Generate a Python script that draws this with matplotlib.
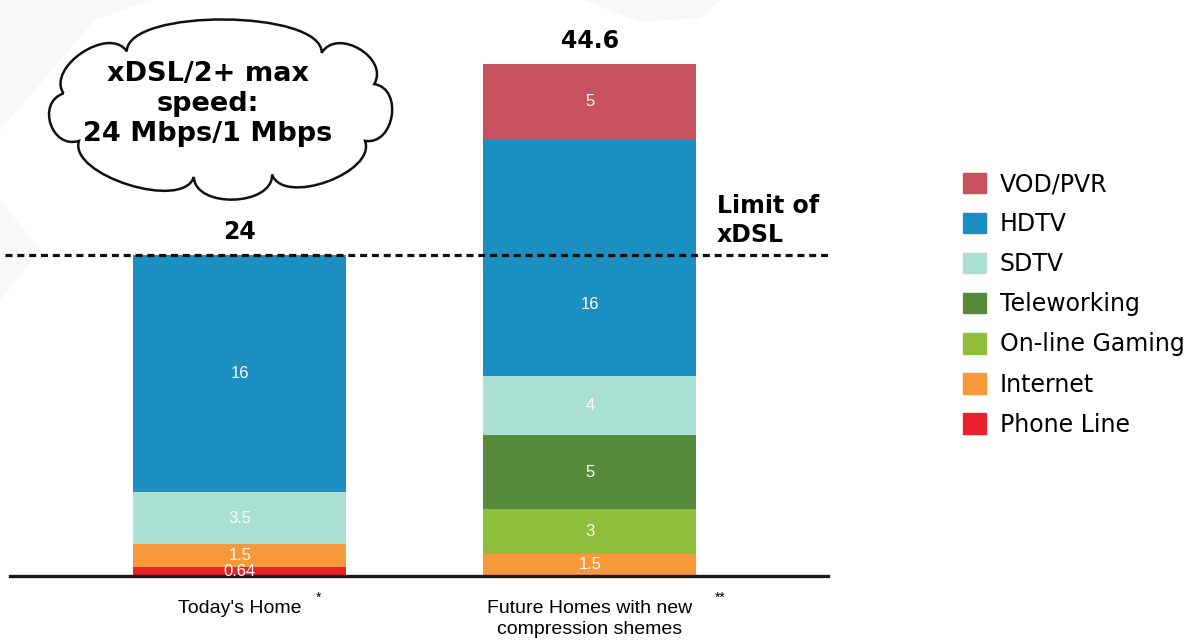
import numpy as np
import matplotlib
matplotlib.use("Agg")
import matplotlib.pyplot as plt
from matplotlib.patches import Patch, PathPatch, Polygon
from matplotlib.path import Path

# ---- data (Mbps per service) ------------------------------------------------
homes = ["Today's Home", "Future Homes with new\ncompression shemes"]
home_marks = ["*", "**"]
services = ["Phone Line", "Internet", "On-line Gaming", "Teleworking",
            "SDTV", "HDTV", "VOD/PVR"]
today = [0.64, 1.5, 0, 0, 3.5, 16, 0]
future = [0, 1.5, 3, 5, 4, 16, 5]
totals = ["24", "44.6"]
colors = ["#e8212b", "#f7993b", "#8fbe3c", "#568b3c",
          "#a9e0d3", "#1b8fc1", "#c8515f"]

W, H = 1202, 642
fig = plt.figure(figsize=(W / 100, H / 100), dpi=100)
fig.patch.set_facecolor("white")

# overlay in pixel coordinates for the faint backdrop and the cloud
ov = fig.add_axes([0, 0, 1, 1], zorder=0)
ov.set_xlim(0, W)
ov.set_ylim(H, 0)
ov.axis("off")
for poly in ([(0, 130), (95, 20), (150, 0), (0, 0)],
             [(0, 300), (40, 250), (0, 200)],
             [(585, 0), (720, 0), (700, 18), (640, 22)]):
    ov.add_patch(Polygon(poly, closed=True, fc="#f8f8f8", ec="none"))

# ---- stacked bars ------------------------------------------------------------
px_per_unit = 14.83
ax = fig.add_axes([10 / W, 66 / H, 818 / W, 556 / H], zorder=1)
ax.patch.set_alpha(0)
ax.set_ylim(0, 556 / px_per_unit)
ax.set_xlim(-230 / 350, 588 / 350)
x = np.arange(len(homes))
width = 213 / 350

bottoms = np.zeros(len(homes))
for i, name in enumerate(services):
    vals = np.array([today[i], future[i]])
    ax.bar(x, vals, width, bottom=bottoms, color=colors[i], linewidth=0)
    for j, v in enumerate(vals):
        if v > 0:
            yc = bottoms[j] + v / 2
            if name == "HDTV" and j == 1:
                yc -= 3.2
            ax.text(x[j], yc, f"{v:g}", ha="center", va="center",
                    color="white", fontsize=12, family="Liberation Sans")
    bottoms += vals

# xDSL limit = top of today's stack
limit = sum(today)
ax.plot([-235 / 350, 588 / 350], [limit, limit], ls=(0, (2.2, 1.5)),
        color="#111111", lw=2.3, clip_on=False)
for j in range(len(homes)):
    ax.text(x[j], bottoms[j] + 0.75, totals[j], ha="center", va="bottom",
            fontsize=17, fontweight="bold", family="DejaVu Sans")
ax.text(1 + 127 / 350, limit + 0.55, "Limit of\nxDSL", ha="left", va="bottom",
        fontsize=17, fontweight="bold", family="DejaVu Sans",
        linespacing=1.25)

for s in ["top", "right", "left"]:
    ax.spines[s].set_visible(False)
ax.spines["bottom"].set_linewidth(2.4)
ax.spines["bottom"].set_color("#1a1a1a")
ax.set_yticks([])
ax.set_xticks(x)
ax.set_xticklabels(homes, fontsize=14, family="Liberation Sans",
                   linespacing=1.3, va="top")
ax.tick_params(axis="x", length=0, pad=17)
ax.text(0 + 76 / 350, -1.5, home_marks[0], ha="left", va="center",
        fontsize=10, family="Liberation Sans")
ax.text(1 + 125 / 350, -1.5, home_marks[1], ha="left", va="center",
        fontsize=10, family="Liberation Sans")

# ---- cloud callout -----------------------------------------------------------
cx, cy, a, b = 222, 108, 162, 70
nodes = [168, 126, 52, 20, -28, -72, -100, -152, -192]
verts, codes = [], []
for k in range(len(nodes) - 1):
    t1, t2 = np.radians(nodes[k]), np.radians(nodes[k + 1])
    p1 = np.array([cx + a * np.cos(t1), cy - b * np.sin(t1)])
    p2 = np.array([cx + a * np.cos(t2), cy - b * np.sin(t2)])
    tm = (t1 + t2) / 2
    n = np.array([np.cos(tm) / a, -np.sin(tm) / b])
    n /= np.hypot(*n)
    h = 24 + 0.1 * np.hypot(*(p2 - p1))
    if k == 0:
        verts.append(p1)
        codes.append(Path.MOVETO)
    verts += [p1 + n * h, p2 + n * h, p2]
    codes += [Path.CURVE4] * 3
ov.add_patch(PathPatch(Path(verts, codes), fc="white", ec="#111111",
                       lw=1.8, zorder=3))
ov.text(208, 104, "xDSL/2+ max\nspeed:\n24 Mbps/1 Mbps", ha="center",
        va="center", fontsize=19.5, fontweight="bold", family="DejaVu Sans",
        linespacing=1.22, zorder=4)

# ---- legend ------------------------------------------------------------------
handles = [Patch(color=colors[i], label=services[i])
           for i in range(len(services) - 1, -1, -1)]
fig.legend(handles=handles, loc="upper left",
           bbox_to_anchor=(942 / W, 1 - 151 / H), frameon=False,
           prop={"family": "DejaVu Sans", "size": 17},
           handlelength=0.95, handleheight=0.95, handletextpad=0.6,
           labelspacing=0.68)

fig.savefig("out.png", dpi=100)
